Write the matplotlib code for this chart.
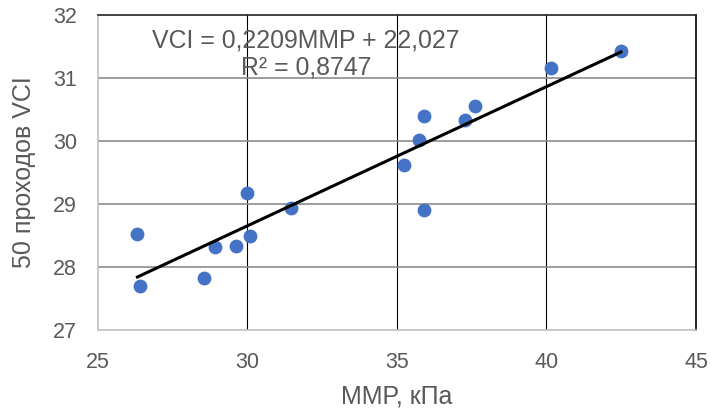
import matplotlib.pyplot as plt

plt.rcParams["font.family"] = ["Liberation Sans", "DejaVu Sans"]

# MMP, kPa vs VCI after 50 passes
mmp = [26.32, 26.42, 28.56, 28.90, 29.60, 29.97, 30.07, 31.44,
       35.25, 35.72, 35.89, 35.89, 37.26, 37.60, 40.15, 42.49]
vci = [28.52, 27.70, 27.83, 28.32, 28.33, 29.17, 28.49, 28.94,
       29.62, 30.02, 30.40, 28.90, 30.33, 30.56, 31.16, 31.43]

slope = 0.2209
intercept = 22.027
r2 = 0.8747

x_ticks = [25, 30, 35, 40, 45]
y_ticks = [27, 28, 29, 30, 31, 32]

text_color = "#595959"

fig = plt.figure(figsize=(7.11, 4.09), dpi=100)
ax = fig.add_axes([0.1378, 0.1932, 0.8411, 0.7701])

ax.set_xlim(25, 45)
ax.set_ylim(27, 32)
ax.set_xticks(x_ticks)
ax.set_yticks(y_ticks)

# gridlines: vertical black, horizontal gray
for x in x_ticks[1:-1]:
    ax.axvline(x, color="black", linewidth=0.8, zorder=1)
for y in y_ticks[1:-1]:
    ax.axhline(y, color="#8c8c8c", linewidth=1.2, zorder=1)

ax.scatter(mmp, vci, s=80, color="#4472C4", zorder=3)

x0, x1 = min(mmp), max(mmp)
ax.plot([x0, x1], [slope * x0 + intercept, slope * x1 + intercept],
        color="black", linewidth=2.2, zorder=4)

ax.text(31.95, 31.6, "VCI = 0,2209MMP + 22,027", ha="center", va="center",
        fontsize=17.9, color=text_color, zorder=5)
ax.text(31.95, 31.17, "R² = 0," + str(r2).split(".")[1], ha="center", va="center",
        fontsize=17.9, color=text_color, zorder=5)

ax.spines["top"].set_color("#222222")
ax.spines["right"].set_color("black")
ax.spines["left"].set_color("#bfbfbf")
ax.spines["bottom"].set_color("#bfbfbf")
for s in ax.spines.values():
    s.set_linewidth(1.2)

ax.tick_params(length=0, labelsize=15.5, labelcolor=text_color, pad=15)
ax.tick_params(axis="x", pad=16)
ax.set_xlabel("MMP, кПа", fontsize=18, color=text_color, labelpad=8)
ax.set_ylabel("50 проходов VCI", fontsize=18, color=text_color, labelpad=12)

fig.savefig("out.png", dpi=100)
